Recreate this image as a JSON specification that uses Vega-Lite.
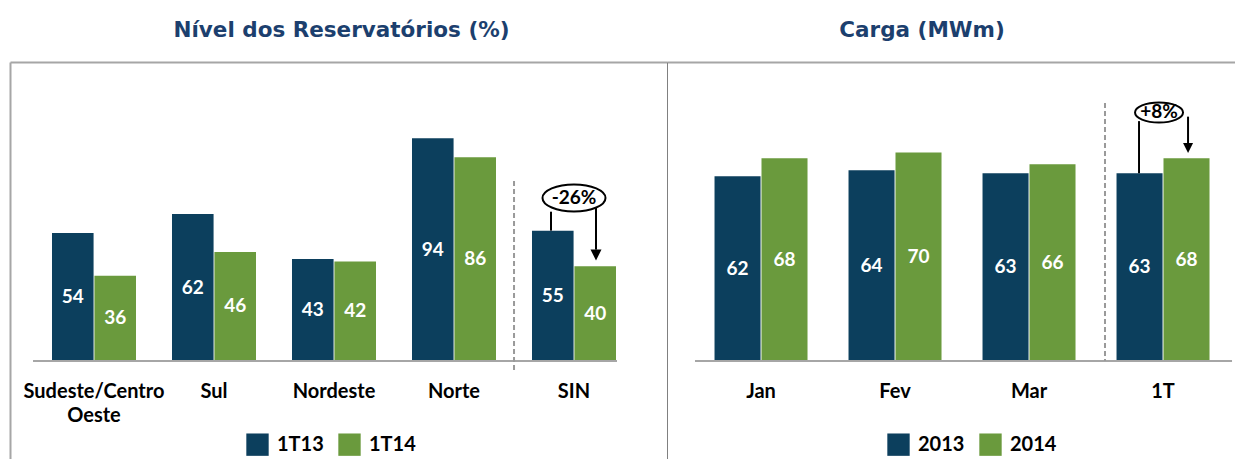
{
  "$schema": "https://vega.github.io/schema/vega-lite/v6.json",
  "background": "white",
  "padding": {"left": 10, "top": 19, "right": 0, "bottom": 0},
  "config": {
    "view": {"stroke": null},
    "axis": {"labels": false, "ticks": false, "grid": false},
    "title": {"font": "DejaVu Sans", "fontSize": 21.5, "fontWeight": "bold", "color": "#1c3f6e", "offset": 21, "anchor": "middle"},
    "legend": {"padding": 0, "symbolType": "square", "symbolSize": 500, "symbolStrokeWidth": 0, "labelFont": "Lato", "labelFontSize": 20, "labelFontWeight": "bold", "labelColor": "#000000", "columnPadding": 14, "labelOffset": 8, "direction": "horizontal", "orient": "none"}
  },
  "hconcat": [
    {
      "title": {"text": "Nível dos Reservatórios (%)", "dx": 3},
      "width": 657,
      "height": 397,
      "layer": [
        {
          "layer": [
            {
              "data": {"values": [
                {"cat": "Sudeste/Centro Oeste", "serie": "1T13", "v": 54},
                {"cat": "Sudeste/Centro Oeste", "serie": "1T14", "v": 36},
                {"cat": "Sul", "serie": "1T13", "v": 62},
                {"cat": "Sul", "serie": "1T14", "v": 46},
                {"cat": "Nordeste", "serie": "1T13", "v": 43},
                {"cat": "Nordeste", "serie": "1T14", "v": 42},
                {"cat": "Norte", "serie": "1T13", "v": 94},
                {"cat": "Norte", "serie": "1T14", "v": 86},
                {"cat": "SIN", "serie": "1T13", "v": 55},
                {"cat": "SIN", "serie": "1T14", "v": 40}
              ]},
              "mark": {"type": "bar"},
              "encoding": {
                "x": {"field": "cat", "type": "nominal", "title": null,
                  "scale": {"domain": ["Sudeste/Centro Oeste", "Sul", "Nordeste", "Norte", "SIN"], "paddingInner": 0.3, "paddingOuter": 0.3875, "align": 0.4516},
                  "axis": {"orient": "top", "domain": true, "domainColor": "#a6a6a6", "domainWidth": 2, "labels": false, "ticks": false, "title": null}},
                "xOffset": {"field": "serie", "type": "nominal", "scale": {"domain": ["1T13", "1T14"], "paddingInner": 0.02}},
                "y": {"field": "v", "type": "quantitative", "title": null,
                  "scale": {"domain": [-41.35, 126.16], "nice": false, "zero": false},
                  "axis": {"orient": "left", "domain": true, "domainColor": "#a6a6a6", "domainWidth": 2, "labels": false, "ticks": false, "title": null}},
                "color": {"field": "serie", "type": "nominal",
                  "scale": {"domain": ["1T13", "1T14"], "range": ["#0c3f5d", "#6a9a3d"]},
                  "legend": {"title": null, "orient": "none", "legendX": 236, "legendY": 371, "direction": "horizontal"}}
              }
            },
            {
              "data": {"values": [{}]},
              "mark": {"type": "rule", "color": "#a6a6a6", "strokeWidth": 2},
              "encoding": {
                "x": {"datum": "Sudeste/Centro Oeste", "type": "nominal", "bandPosition": -0.226, "scale": {"domain": ["Sudeste/Centro Oeste", "Sul", "Nordeste", "Norte", "SIN"], "paddingInner": 0.3, "paddingOuter": 0.3875, "align": 0.4516}},
                "x2": {"datum": "SIN", "bandPosition": 1.012},
                "y": {"datum": 0, "type": "quantitative", "scale": {"domain": [-41.35, 126.16], "nice": false, "zero": false}}
              }
            },
            {
              "data": {"values": [{}]},
              "mark": {"type": "rule", "color": "#9a9a9a", "strokeWidth": 2, "strokeDash": [5, 3]},
              "encoding": {
                "x": {"datum": "SIN", "type": "nominal", "bandPosition": -0.214, "scale": {"domain": ["Sudeste/Centro Oeste", "Sul", "Nordeste", "Norte", "SIN"], "paddingInner": 0.3, "paddingOuter": 0.3875, "align": 0.4516}},
                "y": {"datum": 76, "type": "quantitative", "scale": {"domain": [-41.35, 126.16], "nice": false, "zero": false}},
                "y2": {"datum": -3.8}
              }
            },
            {
              "data": {"values": [{}]},
              "mark": {"type": "rule", "color": "#000000", "strokeWidth": 2},
              "encoding": {
                "x": {"datum": "SIN", "type": "nominal", "bandPosition": 0.226, "scale": {"domain": ["Sudeste/Centro Oeste", "Sul", "Nordeste", "Norte", "SIN"], "paddingInner": 0.3, "paddingOuter": 0.3875, "align": 0.4516}},
                "y": {"datum": 55, "type": "quantitative", "scale": {"domain": [-41.35, 126.16], "nice": false, "zero": false}},
                "y2": {"datum": 63}
              }
            },
            {
              "data": {"values": [{}]},
              "mark": {"type": "rule", "color": "#000000", "strokeWidth": 2},
              "encoding": {
                "x": {"datum": "SIN", "type": "nominal", "bandPosition": 0.762, "scale": {"domain": ["Sudeste/Centro Oeste", "Sul", "Nordeste", "Norte", "SIN"], "paddingInner": 0.3, "paddingOuter": 0.3875, "align": 0.4516}},
                "y": {"datum": 65, "type": "quantitative", "scale": {"domain": [-41.35, 126.16], "nice": false, "zero": false}},
                "y2": {"datum": 47}
              }
            },
            {
              "data": {"values": [{}]},
              "mark": {"type": "point", "shape": "M-1,-1L1,-1L0,1Z", "filled": true, "color": "#000000", "opacity": 1, "size": 121},
              "encoding": {
                "x": {"datum": "SIN", "type": "nominal", "bandPosition": 0.762, "scale": {"domain": ["Sudeste/Centro Oeste", "Sul", "Nordeste", "Norte", "SIN"], "paddingInner": 0.3, "paddingOuter": 0.3875, "align": 0.4516}},
                "y": {"datum": 44.7, "type": "quantitative", "scale": {"domain": [-41.35, 126.16], "nice": false, "zero": false}}
              }
            },
            {
              "data": {"values": [{}]},
              "mark": {"type": "point", "shape": "M-1,0A1,0.43,0,1,1,1,0A1,0.43,0,1,1,-1,0Z", "filled": false, "fill": "#ffffff", "fillOpacity": 1, "stroke": "#000000", "strokeWidth": 2, "opacity": 1, "size": 3969},
              "encoding": {
                "x": {"datum": "SIN", "type": "nominal", "bandPosition": 0.5, "scale": {"domain": ["Sudeste/Centro Oeste", "Sul", "Nordeste", "Norte", "SIN"], "paddingInner": 0.3, "paddingOuter": 0.3875, "align": 0.4516}},
                "y": {"datum": 68.8, "type": "quantitative", "scale": {"domain": [-41.35, 126.16], "nice": false, "zero": false}}
              }
            },
            {
              "data": {"values": [{}]},
              "mark": {"type": "text", "text": "-26%", "font": "Lato", "fontSize": 19, "fontWeight": "bold", "color": "#000000", "baseline": "middle", "align": "center"},
              "encoding": {
                "x": {"datum": "SIN", "type": "nominal", "bandPosition": 0.5, "scale": {"domain": ["Sudeste/Centro Oeste", "Sul", "Nordeste", "Norte", "SIN"], "paddingInner": 0.3, "paddingOuter": 0.3875, "align": 0.4516}},
                "y": {"datum": 68.8, "type": "quantitative", "scale": {"domain": [-41.35, 126.16], "nice": false, "zero": false}}
              }
            },
            {
              "data": {"values": [
                {"cat": "Sudeste/Centro Oeste"},
                {"cat": "Sul"},
                {"cat": "Nordeste"},
                {"cat": "Norte"},
                {"cat": "SIN"}
              ]},
              "mark": {"type": "text", "font": "Lato", "fontSize": 20, "fontWeight": "bold", "color": "#000000", "baseline": "top", "align": "center", "lineBreak": " ", "lineHeight": 24},
              "encoding": {
                "x": {"field": "cat", "type": "nominal", "scale": {"domain": ["Sudeste/Centro Oeste", "Sul", "Nordeste", "Norte", "SIN"], "paddingInner": 0.3, "paddingOuter": 0.3875, "align": 0.4516}},
                "y": {"datum": -8.7, "type": "quantitative", "scale": {"domain": [-41.35, 126.16], "nice": false, "zero": false}},
                "text": {"field": "cat", "type": "nominal"}
              }
            }
          ]
        },
        {
          "data": {"values": [
            {"cat": "Sudeste/Centro Oeste", "serie": "1T13", "v": 54},
            {"cat": "Sudeste/Centro Oeste", "serie": "1T14", "v": 36},
            {"cat": "Sul", "serie": "1T13", "v": 62},
            {"cat": "Sul", "serie": "1T14", "v": 46},
            {"cat": "Nordeste", "serie": "1T13", "v": 43},
            {"cat": "Nordeste", "serie": "1T14", "v": 42},
            {"cat": "Norte", "serie": "1T13", "v": 94},
            {"cat": "Norte", "serie": "1T14", "v": 86},
            {"cat": "SIN", "serie": "1T13", "v": 55},
            {"cat": "SIN", "serie": "1T14", "v": 40}
          ]},
          "mark": {"type": "text", "font": "Lato", "fontSize": 19, "fontWeight": "bold", "color": "#ffffff", "baseline": "middle", "align": "center"},
          "encoding": {
            "x": {"field": "cat", "type": "nominal", "scale": {"domain": ["Sudeste/Centro Oeste", "Sul", "Nordeste", "Norte", "SIN"], "paddingInner": 0.3, "paddingOuter": 0.3875, "align": 0.4516}},
            "xOffset": {"field": "serie", "type": "nominal", "scale": {"domain": ["1T13", "1T14"], "paddingInner": 0.02}},
            "y": {"field": "v", "type": "quantitative", "axis": null, "scale": {"domain": [-82.7, 252.32], "nice": false, "zero": false}},
            "text": {"field": "v", "type": "quantitative"}
          }
        }
      ],
      "resolve": {"scale": {"y": "independent"}}
    },
    {
      "title": {"text": "Carga (MWm)", "dx": -29},
      "width": 568,
      "height": 397,
      "layer": [
        {
          "layer": [
            {
              "data": {"values": [
                {"cat": "Jan", "serie": "2013", "v": 62},
                {"cat": "Jan", "serie": "2014", "v": 68},
                {"cat": "Fev", "serie": "2013", "v": 64},
                {"cat": "Fev", "serie": "2014", "v": 70},
                {"cat": "Mar", "serie": "2013", "v": 63},
                {"cat": "Mar", "serie": "2014", "v": 66},
                {"cat": "1T", "serie": "2013", "v": 63},
                {"cat": "1T", "serie": "2014", "v": 68}
              ]},
              "mark": {"type": "bar"},
              "encoding": {
                "x": {"field": "cat", "type": "nominal", "title": null,
                  "scale": {"domain": ["Jan", "Fev", "Mar", "1T"], "paddingInner": 0.306, "paddingOuter": 0.2724, "align": 0.651},
                  "axis": {"orient": "top", "domain": true, "domainColor": "#a6a6a6", "domainWidth": 2, "labels": false, "ticks": false, "title": null}},
                "xOffset": {"field": "serie", "type": "nominal", "scale": {"domain": ["2013", "2014"], "paddingInner": 0.02}},
                "y": {"field": "v", "type": "quantitative", "title": null,
                  "scale": {"domain": [-32.89, 100.34], "nice": false, "zero": false},
                  "axis": {"orient": "left", "domain": true, "domainColor": "#808080", "domainWidth": 1, "labels": false, "ticks": false, "title": null}},
                "color": {"field": "serie", "type": "nominal",
                  "scale": {"domain": ["2013", "2014"], "range": ["#0c3f5d", "#6a9a3d"]},
                  "legend": {"title": null, "orient": "none", "legendX": 220, "legendY": 371, "direction": "horizontal"}}
              }
            },
            {
              "data": {"values": [{}]},
              "mark": {"type": "rule", "color": "#a6a6a6", "strokeWidth": 2},
              "encoding": {
                "x": {"datum": "Jan", "type": "nominal", "bandPosition": -0.21, "scale": {"domain": ["Jan", "Fev", "Mar", "1T"], "paddingInner": 0.306, "paddingOuter": 0.2724, "align": 0.651}},
                "x2": {"datum": "1T", "bandPosition": 1.242},
                "y": {"datum": 0, "type": "quantitative", "scale": {"domain": [-32.89, 100.34], "nice": false, "zero": false}}
              }
            },
            {
              "data": {"values": [{}]},
              "mark": {"type": "rule", "color": "#9a9a9a", "strokeWidth": 2, "strokeDash": [5, 3]},
              "encoding": {
                "x": {"datum": "1T", "type": "nominal", "bandPosition": -0.124, "scale": {"domain": ["Jan", "Fev", "Mar", "1T"], "paddingInner": 0.306, "paddingOuter": 0.2724, "align": 0.651}},
                "y": {"datum": 86.6, "type": "quantitative", "scale": {"domain": [-32.89, 100.34], "nice": false, "zero": false}},
                "y2": {"datum": 0}
              }
            },
            {
              "data": {"values": [{}]},
              "mark": {"type": "rule", "color": "#000000", "strokeWidth": 2},
              "encoding": {
                "x": {"datum": "1T", "type": "nominal", "bandPosition": 0.242, "scale": {"domain": ["Jan", "Fev", "Mar", "1T"], "paddingInner": 0.306, "paddingOuter": 0.2724, "align": 0.651}},
                "y": {"datum": 63, "type": "quantitative", "scale": {"domain": [-32.89, 100.34], "nice": false, "zero": false}},
                "y2": {"datum": 80.5}
              }
            },
            {
              "data": {"values": [{}]},
              "mark": {"type": "rule", "color": "#000000", "strokeWidth": 2},
              "encoding": {
                "x": {"datum": "1T", "type": "nominal", "bandPosition": 0.769, "scale": {"domain": ["Jan", "Fev", "Mar", "1T"], "paddingInner": 0.306, "paddingOuter": 0.2724, "align": 0.651}},
                "y": {"datum": 82, "type": "quantitative", "scale": {"domain": [-32.89, 100.34], "nice": false, "zero": false}},
                "y2": {"datum": 72.5}
              }
            },
            {
              "data": {"values": [{}]},
              "mark": {"type": "point", "shape": "M-1,-1L1,-1L0,1Z", "filled": true, "color": "#000000", "opacity": 1, "size": 100},
              "encoding": {
                "x": {"datum": "1T", "type": "nominal", "bandPosition": 0.769, "scale": {"domain": ["Jan", "Fev", "Mar", "1T"], "paddingInner": 0.306, "paddingOuter": 0.2724, "align": 0.651}},
                "y": {"datum": 71.5, "type": "quantitative", "scale": {"domain": [-32.89, 100.34], "nice": false, "zero": false}}
              }
            },
            {
              "data": {"values": [{}]},
              "mark": {"type": "point", "shape": "M-1,0A1,0.42,0,1,1,1,0A1,0.42,0,1,1,-1,0Z", "filled": false, "fill": "#ffffff", "fillOpacity": 1, "stroke": "#000000", "strokeWidth": 2, "opacity": 1, "size": 2304},
              "encoding": {
                "x": {"datum": "1T", "type": "nominal", "bandPosition": 0.457, "scale": {"domain": ["Jan", "Fev", "Mar", "1T"], "paddingInner": 0.306, "paddingOuter": 0.2724, "align": 0.651}},
                "y": {"datum": 83.4, "type": "quantitative", "scale": {"domain": [-32.89, 100.34], "nice": false, "zero": false}}
              }
            },
            {
              "data": {"values": [{}]},
              "mark": {"type": "text", "text": "+8%", "font": "Lato", "fontSize": 19, "fontWeight": "bold", "color": "#000000", "baseline": "middle", "align": "center"},
              "encoding": {
                "x": {"datum": "1T", "type": "nominal", "bandPosition": 0.457, "scale": {"domain": ["Jan", "Fev", "Mar", "1T"], "paddingInner": 0.306, "paddingOuter": 0.2724, "align": 0.651}},
                "y": {"datum": 83.4, "type": "quantitative", "scale": {"domain": [-32.89, 100.34], "nice": false, "zero": false}}
              }
            },
            {
              "data": {"values": [
                {"cat": "Jan"},
                {"cat": "Fev"},
                {"cat": "Mar"},
                {"cat": "1T"}
              ]},
              "mark": {"type": "text", "font": "Lato", "fontSize": 20, "fontWeight": "bold", "color": "#000000", "baseline": "top", "align": "center"},
              "encoding": {
                "x": {"field": "cat", "type": "nominal", "scale": {"domain": ["Jan", "Fev", "Mar", "1T"], "paddingInner": 0.306, "paddingOuter": 0.2724, "align": 0.651}},
                "y": {"datum": -6.9, "type": "quantitative", "scale": {"domain": [-32.89, 100.34], "nice": false, "zero": false}},
                "text": {"field": "cat", "type": "nominal"}
              }
            }
          ]
        },
        {
          "data": {"values": [
            {"cat": "Jan", "serie": "2013", "v": 62},
            {"cat": "Jan", "serie": "2014", "v": 68},
            {"cat": "Fev", "serie": "2013", "v": 64},
            {"cat": "Fev", "serie": "2014", "v": 70},
            {"cat": "Mar", "serie": "2013", "v": 63},
            {"cat": "Mar", "serie": "2014", "v": 66},
            {"cat": "1T", "serie": "2013", "v": 63},
            {"cat": "1T", "serie": "2014", "v": 68}
          ]},
          "mark": {"type": "text", "font": "Lato", "fontSize": 19, "fontWeight": "bold", "color": "#ffffff", "baseline": "middle", "align": "center"},
          "encoding": {
            "x": {"field": "cat", "type": "nominal", "scale": {"domain": ["Jan", "Fev", "Mar", "1T"], "paddingInner": 0.306, "paddingOuter": 0.2724, "align": 0.651}},
            "xOffset": {"field": "serie", "type": "nominal", "scale": {"domain": ["2013", "2014"], "paddingInner": 0.02}},
            "y": {"field": "v", "type": "quantitative", "axis": null, "scale": {"domain": [-65.78, 200.68], "nice": false, "zero": false}},
            "text": {"field": "v", "type": "quantitative"}
          }
        }
      ],
      "resolve": {"scale": {"y": "independent"}}
    }
  ],
  "spacing": 0,
  "bounds": "flush",
  "resolve": {"scale": {"color": "independent", "xOffset": "independent"}}
}
